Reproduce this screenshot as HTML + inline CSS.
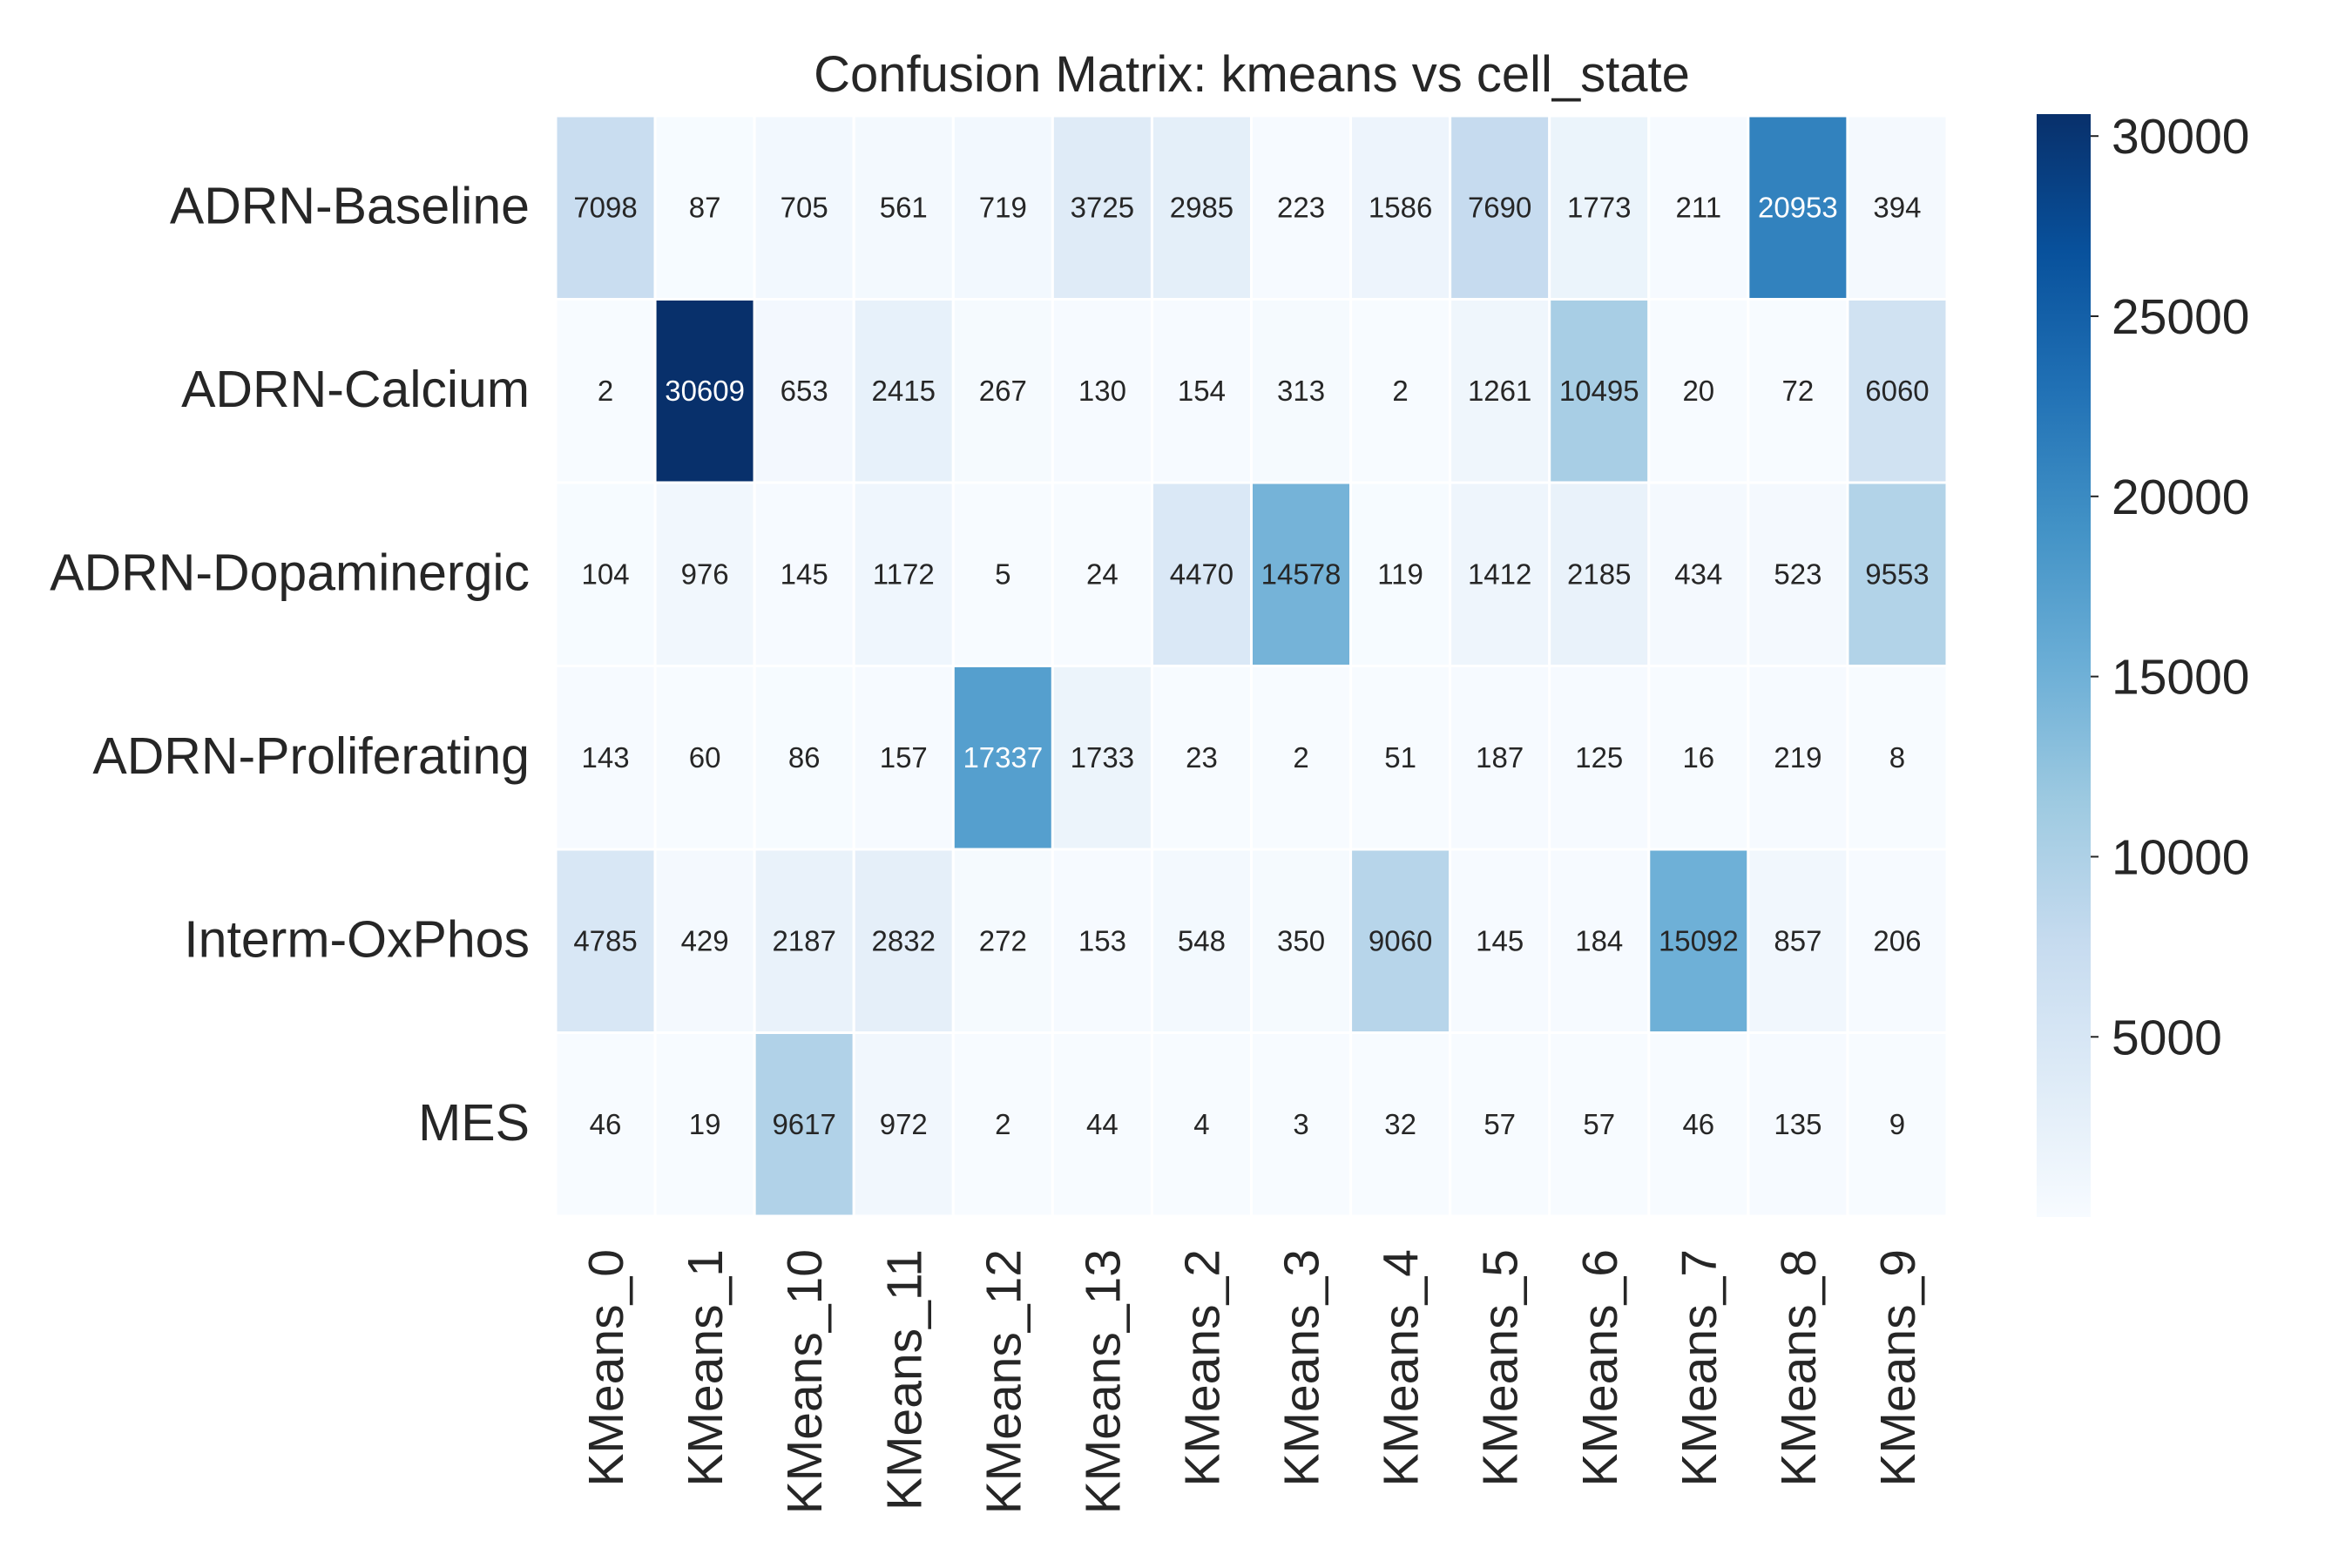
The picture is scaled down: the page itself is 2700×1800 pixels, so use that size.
<!DOCTYPE html>
<html><head><meta charset="utf-8"><style>
html,body{margin:0;padding:0;background:#fff;}
svg{display:block;font-family:"Liberation Sans",Arial,sans-serif;}
</style></head><body>
<svg id="chart" width="2700" height="1800" viewBox="0 0 2700 1800" xmlns="http://www.w3.org/2000/svg">
<rect width="2700" height="1800" fill="#fff"/>
<text x="1437" y="105" font-size="58" text-anchor="middle" fill="#262626">Confusion Matrix: kmeans vs cell_state</text>
<g id="cells"></g><g id="ylabels"></g><g id="xlabels"></g><g id="cbar"></g>
</svg>
<script>
const rowLabels = ["ADRN-Baseline","ADRN-Calcium","ADRN-Dopaminergic","ADRN-Proliferating","Interm-OxPhos","MES"];
const colLabels = ["KMeans_0","KMeans_1","KMeans_10","KMeans_11","KMeans_12","KMeans_13","KMeans_2","KMeans_3","KMeans_4","KMeans_5","KMeans_6","KMeans_7","KMeans_8","KMeans_9"];
const row0 = [7098,87,705,561,719,3725,2985,223,1586,7690,1773,211,20953,394];
const row1 = [2,30609,653,2415,267,130,154,313,2,1261,10495,20,72,6060];
const row2 = [104,976,145,1172,5,24,4470,14578,119,1412,2185,434,523,9553];
const row3 = [143,60,86,157,17337,1733,23,2,51,187,125,16,219,8];
const row4 = [4785,429,2187,2832,272,153,548,350,9060,145,184,15092,857,206];
const row5 = [46,19,9617,972,2,44,4,3,32,57,57,46,135,9];
const matrix = [row0,row1,row2,row3,row4,row5];
const cbarTicks = [5000,10000,15000,20000,25000,30000];

const NS="http://www.w3.org/2000/svg";
const L=638,R=2235,T=133,B=1396;
const cw=(R-L)/colLabels.length, rh=(B-T)/rowLabels.length;
let vmin=Infinity,vmax=-Infinity;
matrix.forEach(r=>r.forEach(v=>{vmin=Math.min(vmin,v);vmax=Math.max(vmax,v);}));
const stops=["#f7fbff","#deebf7","#c6dbef","#9ecae1","#6baed6","#4292c6","#2171b5","#08519c","#08306b"];
function hex(h){return [1,3,5].map(i=>parseInt(h.substr(i,2),16));}
function cmap(t){t=Math.max(0,Math.min(1,t));const p=t*8,i=Math.min(7,Math.floor(p)),f=p-i;
 const a=hex(stops[i]),b=hex(stops[i+1]);return "rgb("+a.map((x,k)=>Math.round(x+(b[k]-x)*f)).join(",")+")";}
function norm(v){return (v-vmin)/(vmax-vmin);}
function mk(tag,attrs,parent){const e=document.createElementNS(NS,tag);for(const k in attrs)e.setAttribute(k,attrs[k]);parent.appendChild(e);return e;}
const cells=document.getElementById("cells");
matrix.forEach((row,i)=>row.forEach((v,j)=>{
 const r=mk("rect",{x:L+j*cw,y:T+i*rh,width:cw,height:rh,fill:cmap(norm(v)),stroke:"#fff","stroke-width":3},cells);
 
 
 const t=mk("text",{x:L+(j+0.5)*cw,y:T+(i+0.5)*rh+11,"font-size":33,"text-anchor":"middle",fill:norm(v)>0.5?"#fff":"#262626"},cells);
 
 
 t.textContent=v;
}));
const yl=document.getElementById("ylabels");
rowLabels.forEach((s,i)=>{
 const t=mk("text",{x:608,y:T+(i+0.5)*rh+18,"font-size":59,"text-anchor":"end",fill:"#262626"},yl);
 
 
 t.textContent=s;
});
const xl=document.getElementById("xlabels");
colLabels.forEach((s,j)=>{
 const x=L+(j+0.5)*cw+20,y=1434;
 const t=mk("text",{x:x,y:y,"font-size":57,"text-anchor":"end",fill:"#262626",transform:"rotate(-90 "+x+" "+y+")"},xl);
 
 
 t.textContent=s;
});
const cb=document.getElementById("cbar");
const CL=2338,CR=2400,CT=131,CB=1397;
const defs=mk("defs",{},cb);
const g=mk("linearGradient",{id:"grad",x1:0,y1:1,x2:0,y2:0},defs);
stops.forEach((c,k)=>mk("stop",{offset:k/8,"stop-color":c},g));
const bar=mk("rect",{x:CL,y:CT,width:CR-CL,height:CB-CT,fill:"url(#grad)"},cb);


function cy(v){return CB-norm(v)*(CB-CT);}
cbarTicks.forEach(v=>{
 const y=cy(v);
 const l=mk("line",{x1:CR,x2:CR+9,y1:y,y2:y,stroke:"#262626","stroke-width":2},cb);
 
 
 const t=mk("text",{x:CR+24,y:y+20,"font-size":57,fill:"#262626"},cb);
 
 
 t.textContent=v;
});
</script>
</body></html>
